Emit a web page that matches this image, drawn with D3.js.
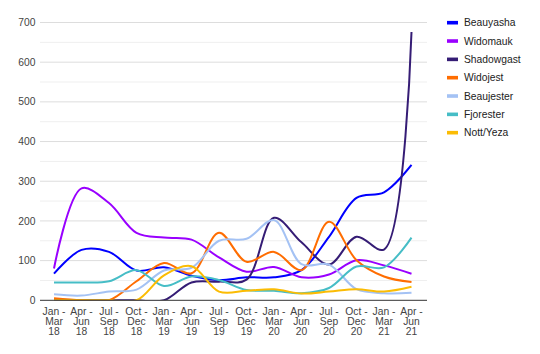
<!DOCTYPE html>
<html lang="en">
<head>
<meta charset="utf-8">
<script src="https://d3js.org/d3.v7.min.js"></script>
<style>
  body { margin: 0; background: #fff; }
  text { font-family: "Liberation Sans", Arial, sans-serif; }
</style>
</head>
<body>
<script>
// quarters along the x axis (three lines each)
const quarters = [
  ["Jan -", "Mar", "18"], ["Apr -", "Jun", "18"], ["Jul -", "Sep", "18"], ["Oct -", "Dec", "18"],
  ["Jan -", "Mar", "19"], ["Apr -", "Jun", "19"], ["Jul -", "Sep", "19"], ["Oct -", "Dec", "19"],
  ["Jan -", "Mar", "20"], ["Apr -", "Jun", "20"], ["Jul -", "Sep", "20"], ["Oct -", "Dec", "20"],
  ["Jan -", "Mar", "21"], ["Apr -", "Jun", "21"]
];
const seriesNames = ["Beauyasha", "Widomauk", "Shadowgast", "Widojest", "Beaujester", "Fjorester", "Nott/Yeza"];
const seriesColors = ["#0000ff", "#9900ff", "#351c75", "#ff6d01", "#a4c2f4", "#46bdc6", "#fbbc04"];

const beauyasha  = [67, 127, 122, 75, 83, 62, 51, 58, 58, 76, 160, 258, 272, 341];
const widomauk   = [80, 282, 245, 170, 158, 153, 108, 72, 84, 58, 65, 101, 88, 67];
const shadowgast = [0, 0, 0, 0, 0, 45, 47, 52, 208, 146, 90, 160, 128, 676];
const widojest   = [5, 0, 0, 48, 94, 68, 170, 97, 122, 76, 198, 101, 60, 46];
const beaujester = [15, 12, 22, 27, 75, 82, 150, 155, 202, 91, 90, 28, 18, 19];
const fjorester  = [45, 45, 48, 76, 36, 60, 51, 26, 24, 18, 31, 85, 83, 158];
const nottYeza   = [0, 0, 0, 0, 63, 86, 22, 24, 28, 17, 22, 28, 22, 34];
const seriesValues = [beauyasha, widomauk, shadowgast, widojest, beaujester, fjorester, nottYeza];

const yTicks = [0, 100, 200, 300, 400, 500, 600, 700];
const yMinor = [50, 150, 250, 350, 450, 550, 650];

const width = 540, height = 354;
const plot = { left: 40, right: 427, top: 22.5, bottom: 300.3 };

const svg = d3.select("body").append("svg")
  .attr("width", width).attr("height", height);

const x = d3.scalePoint()
  .domain(d3.range(quarters.length))
  .range([54, 411.5]);
const y = d3.scaleLinear()
  .domain([0, 700])
  .range([plot.bottom, plot.top]);

// gridlines
svg.append("g").selectAll("line").data(yMinor).join("line")
  .attr("x1", plot.left).attr("x2", plot.right)
  .attr("y1", d => y(d)).attr("y2", d => y(d))
  .attr("stroke", "#efefef").attr("stroke-width", 1);
svg.append("g").selectAll("line").data(yTicks.filter(d => d > 0)).join("line")
  .attr("x1", plot.left).attr("x2", plot.right)
  .attr("y1", d => y(d)).attr("y2", d => y(d))
  .attr("stroke", "#dddddd").attr("stroke-width", 1);

// y labels
svg.append("g").selectAll("text").data(yTicks).join("text")
  .attr("x", 35.5).attr("y", d => y(d) + 3.6)
  .attr("text-anchor", "end")
  .attr("font-size", "10.3px").attr("fill", "#444")
  .text(d => d);

// x labels
const xl = svg.append("g").selectAll("text").data(quarters).join("text")
  .attr("text-anchor", "middle")
  .attr("font-size", "10.3px").attr("fill", "#444");
xl.selectAll("tspan").data(d => d).join("tspan")
  .attr("x", function() { return x(quarters.indexOf(d3.select(this.parentNode).datum())); })
  .attr("y", (d, i) => 314.5 + i * 10)
  .text(d => d);

// lines
svg.append("clipPath").attr("id", "clip").append("rect")
  .attr("x", 0).attr("y", 0).attr("width", width).attr("height", plot.bottom);

const line = d3.line()
  .x((d, i) => x(i))
  .y(d => y(d))
  .curve(d3.curveCatmullRom.alpha(0.5));

svg.append("g").attr("clip-path", "url(#clip)")
  .selectAll("path").data(seriesValues).join("path")
  .attr("fill", "none")
  .attr("stroke", (d, i) => seriesColors[i])
  .attr("stroke-width", 2)
  .attr("d", line);

// baseline
svg.append("line")
  .attr("x1", plot.left).attr("x2", plot.right)
  .attr("y1", y(0)).attr("y2", y(0))
  .attr("stroke", "#333").attr("stroke-width", 1);

// legend
const lg = svg.append("g").selectAll("g").data(seriesNames).join("g")
  .attr("transform", (d, i) => `translate(447,${22.7 + i * 18.33})`);
lg.append("rect")
  .attr("x", 0).attr("y", -1.8).attr("width", 11).attr("height", 3.6)
  .attr("fill", (d, i) => seriesColors[i]);
lg.append("text")
  .attr("x", 17).attr("y", 3.6)
  .attr("font-size", "10.3px").attr("fill", "#222")
  .text(d => d);
</script>
</body>
</html>
